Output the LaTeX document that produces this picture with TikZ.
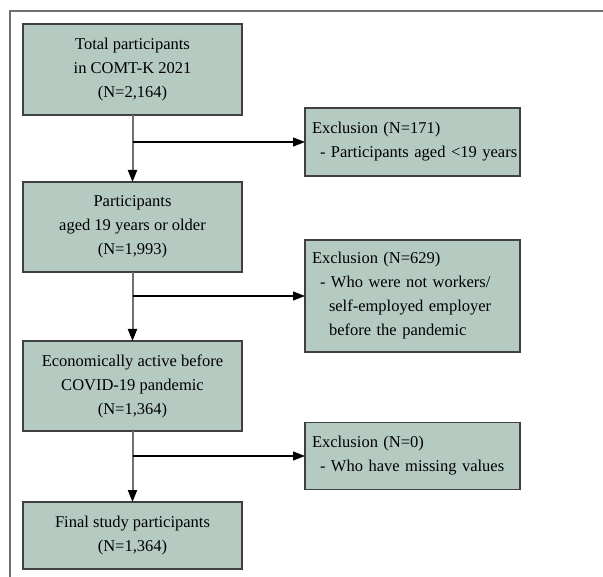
\documentclass[tikz,border=0pt]{standalone}
\usepackage{fontspec}
\setmainfont{Liberation Serif}
\usetikzlibrary{arrows.meta,calc,positioning}
\definecolor{boxfill}{HTML}{B5CBC2}
\definecolor{boxline}{HTML}{404040}
\definecolor{vline}{HTML}{707070}
\begin{document}
\begin{tikzpicture}[x=1pt,y=-1pt,
mainbox/.style={draw=boxline,line width=1.4pt,fill=boxfill,rectangle,minimum width=219pt,align=center,font=\fontsize{16.5}{24}\selectfont,inner sep=0pt,outer sep=0pt},
exclbox/.style={draw=boxline,line width=1.4pt,fill=boxfill,rectangle,minimum width=215pt,text width=201pt,align=left,font=\fontsize{16.5}{24}\selectfont,inner xsep=7pt,inner ysep=0pt,outer sep=0pt},
down/.style={draw=vline,line width=2pt,-{Triangle[length=12pt,width=9pt,color=black]}},
side/.style={draw=black,line width=1.2pt,-{Triangle[length=12pt,width=9pt]}},
node distance=0pt]

        \useasboundingbox (0,0) rectangle (603,577);
        \draw[vline,line width=1.2pt] (603,11) -- (10,11) -- (10,577);

        \node [mainbox, minimum height=91pt, anchor=north west] (b1) at (23,24) {Total participants\\in COMT-K 2021\\(N=2,164)};
        \node [mainbox, minimum height=90pt, below = 67pt of b1] (b2) {Participants\\aged 19 years or older\\(N=1,993)};
        \node [mainbox, minimum height=90pt, below = 69pt of b2] (b3) {Economically active before\\COVID-19 pandemic\\(N=1,364)};
        \node [mainbox, minimum height=67pt, below = 71pt of b3] (b4) {Final study participants\\(N=1,364)};

        \node [exclbox, minimum height=68pt, anchor=west] (e1) at (305,142) {Exclusion (N=171)\\\hspace*{8pt}\mbox{- Participants aged <19 years}};
        \node [exclbox, minimum height=112pt, anchor=west] (e2) at (305,296) {Exclusion (N=629)\\\hspace*{8pt}- Who were not workers/\\\hspace*{17pt}self-employed employer\\\hspace*{17pt}before the pandemic};
        \node [exclbox, minimum height=67pt, anchor=west] (e3) at (305,456) {Exclusion (N=0)\\\hspace*{8pt}- Who have missing values};

        \coordinate (j1) at (b1.south |- e1.west);
        \coordinate (j2) at (b2.south |- e2.west);
        \coordinate (j3) at (b3.south |- e3.west);

        \draw[down] (b1) -- (b2);
        \draw[down] (b2) -- (b3);
        \draw[down] (b3) -- (b4);
        \draw[side] (j1) -- (e1);
        \draw[side] (j2) -- (e2);
        \draw[side] (j3) -- (e3);
    \end{tikzpicture}
\end{document}
